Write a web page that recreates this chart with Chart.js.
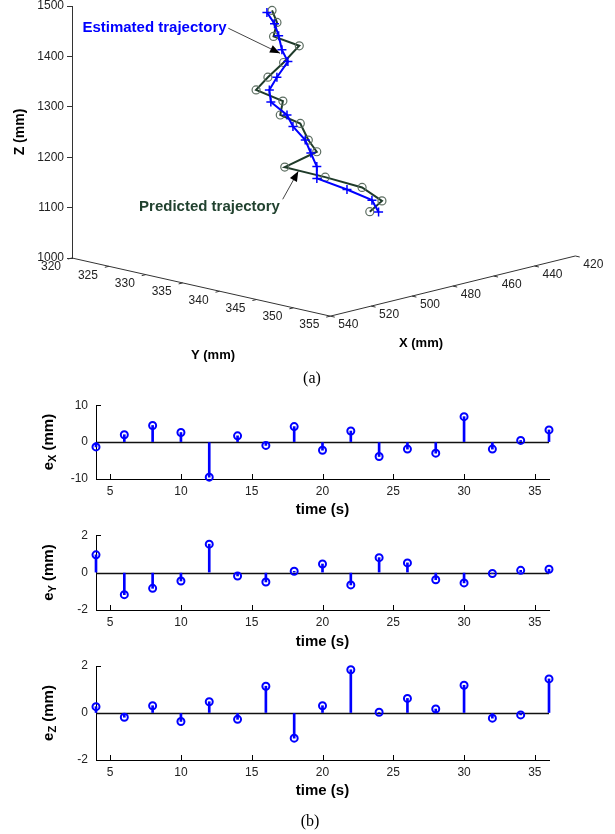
<!DOCTYPE html>
<html><head><meta charset="utf-8">
<script src="https://cdn.jsdelivr.net/npm/chart.js@4.4.1/dist/chart.umd.min.js"></script>
<style>
html,body{margin:0;padding:0;background:#fff;}
#wrap{position:relative;width:615px;height:834px;overflow:hidden;background:#fff;}
canvas{position:absolute;left:0;}
.cap{position:absolute;font-family:'Liberation Serif','Times New Roman',serif;font-size:16px;color:#000;transform:translate(-50%,-50%);white-space:nowrap;}
</style></head><body>
<div id="wrap">
<canvas id="c3d" style="top:0px" width="615" height="370"></canvas>
<div class="cap" style="left:312px;top:378px">(a)</div>
<canvas id="cx" style="top:390px" width="615" height="133"></canvas>
<canvas id="cy" style="top:520px" width="615" height="135"></canvas>
<canvas id="cz" style="top:650px" width="615" height="154"></canvas>
<div class="cap" style="left:310px;top:821px">(b)</div>
</div>
<script>
// ---------------- data ----------------
const time = [4, 6, 8, 10, 12, 14, 16, 18, 20, 22, 24, 26, 28, 30, 32, 34, 36];
const errX = [-1.3, 2.0, 4.5, 2.6, -9.5, 1.7, -0.9, 4.2, -2.2, 3.0, -3.9, -1.9, -3.0, 6.9, -1.9, 0.45, 3.3];
const errY = [0.95, -1.18, -0.84, -0.45, 1.52, -0.18, -0.5, 0.07, 0.46, -0.66, 0.8, 0.52, -0.38, -0.55, -0.05, 0.12, 0.18];
const errZ = [0.27, -0.18, 0.31, -0.36, 0.48, -0.27, 1.14, -1.07, 0.31, 1.84, 0.03, 0.62, 0.17, 1.18, -0.22, -0.08, 1.45];

// 3-D trajectories (mm)
const estX = [462.6, 462.5, 467.7, 466.1, 470.4, 479.4, 483.1, 489.6, 485.3, 486.0, 487.2, 491.7, 496.0, 499.6, 499.3, 494.3, 501.9];
const estY = [325, 326, 328, 328, 330, 331, 331, 333, 334, 335, 337, 339, 341, 342, 346, 348, 351];
const estZ = [1426.8, 1407.5, 1395.4, 1365.9, 1353.5, 1334.7, 1313.2, 1302.4, 1275.6, 1256.7, 1237.6, 1222.9, 1206.8, 1190.3, 1181.2, 1161.6, 1155.7];
const predX = [460.1, 461.3, 470.2, 457.6, 472.5, 483.8, 489.6, 483.7, 488.6, 482.4, 485.7, 488.8, 511.7, 495.5, 491.9, 489.4, 506.2];
const predY = [325, 326, 328, 328, 330, 331, 331, 333, 334, 335, 337, 339, 341, 342, 346, 348, 351];
const predZ = [1428.3, 1408.9, 1396.5, 1365.5, 1353.7, 1339.1, 1319.7, 1298.2, 1278.8, 1259.1, 1236.1, 1222.5, 1221.4, 1188.7, 1177.9, 1155.3, 1160.4];

// tick labels
const zTicks = [1000, 1100, 1200, 1300, 1400, 1500];
const yTicks3d = [320, 325, 330, 335, 340, 345, 350, 355];
const xTicks3d = [540, 520, 500, 480, 460, 440, 420];
const timeTicks = [5, 10, 15, 20, 25, 30, 35];
const exTicks = [-10, 0, 10];
const eyTicks = [-2, 0, 2];
const ezTicks = [-2, 0, 2];

// ---------------- view / projection ----------------
const VIEW = {xRef: 540, yRef: 320, au: 2.0417, bu: 7.38, av: 0.9944, bv: 3.2956};
function project(X, Y, Z) {
  return {x: (VIEW.xRef - X) * VIEW.au + (Y - VIEW.yRef) * VIEW.bu,
          y: Z + (VIEW.xRef - X) * VIEW.av - (Y - VIEW.yRef) * VIEW.bv};
}
const FONT = '"Liberation Sans", Arial, Helvetica, sans-serif';
Chart.defaults.font.family = FONT;
Chart.defaults.color = '#222';

const estPts = time.map((t, i) => project(estX[i], estY[i], estZ[i]));
const predPts = time.map((t, i) => project(predX[i], predY[i], predZ[i]));

const notes = [
  {text: 'Estimated trajectory', color: '#0000ff', at: [82.5, 1457.3], from: [156.3, 1455.9], to: [208, 1406.2]},
  {text: 'Predicted trajectory', color: '#21422f', at: [137.5, 1101.8], from: [210.7, 1116.5], to: [226.3, 1172.2]}
];
const axisNames = [
  {text: 'Y (mm)', at: [141, 807.5]},
  {text: 'X (mm)', at: [349, 831.3]}
];

const axes3d = {
  id: 'axes3d',
  afterDraw(chart) {
    const ctx = chart.ctx, xs = chart.scales.x, ys = chart.scales.y;
    const P = (X, Y, Z) => { const p = project(X, Y, Z); return [xs.getPixelForValue(p.x), ys.getPixelForValue(p.y)]; };
    const V = (a) => [xs.getPixelForValue(a[0]), ys.getPixelForValue(a[1])];
    const z0 = zTicks[0];
    const xMax = xTicks3d[0], xMin = xTicks3d[xTicks3d.length - 1];
    const yMin = yTicks3d[0], yMax = yTicks3d[yTicks3d.length - 1];
    ctx.save();
    ctx.strokeStyle = '#333'; ctx.lineWidth = 1;
    ctx.beginPath();
    let a = P(xMax, yMin, z0), b = P(xMax, yMax, z0), c = P(xMin, yMax, z0);
    ctx.moveTo(a[0], a[1]); ctx.lineTo(b[0], b[1]); ctx.lineTo(c[0], c[1]);
    ctx.stroke();
    ctx.font = '12px ' + FONT; ctx.fillStyle = '#222';
    ctx.textAlign = 'center'; ctx.textBaseline = 'middle';
    yTicks3d.forEach(v => {
      const p = P(xMax, v, z0), q = P(xMax + 2, v, z0);
      ctx.beginPath(); ctx.moveTo(p[0], p[1]); ctx.lineTo(q[0], q[1]); ctx.stroke();
      ctx.fillText(String(v), p[0] - 21, p[1] + 9);
    });
    xTicks3d.forEach(v => {
      const p = P(v, yMax, z0), q = P(v, yMax + 0.6, z0);
      ctx.beginPath(); ctx.moveTo(p[0], p[1]); ctx.lineTo(q[0], q[1]); ctx.stroke();
      ctx.fillText(String(v), p[0] + 18, p[1] + 9);
    });
    ctx.font = 'bold 13px ' + FONT; ctx.fillStyle = '#000';
    axisNames.forEach(n => { const p = V(n.at); ctx.fillText(n.text, p[0], p[1]); });
    // annotations
    notes.forEach(n => {
      const t = V(n.at), f = V(n.from), e = V(n.to);
      ctx.font = 'bold 15px ' + FONT; ctx.fillStyle = n.color;
      ctx.fillText(n.text, t[0], t[1]);
      ctx.strokeStyle = '#444'; ctx.lineWidth = 1;
      ctx.beginPath(); ctx.moveTo(f[0], f[1]); ctx.lineTo(e[0], e[1]); ctx.stroke();
      const ang = Math.atan2(e[1] - f[1], e[0] - f[0]);
      const L = 10, W = 4;
      ctx.fillStyle = '#000';
      ctx.beginPath();
      ctx.moveTo(e[0], e[1]);
      ctx.lineTo(e[0] - L * Math.cos(ang) + W * Math.sin(ang), e[1] - L * Math.sin(ang) - W * Math.cos(ang));
      ctx.lineTo(e[0] - L * Math.cos(ang) - W * Math.sin(ang), e[1] - L * Math.sin(ang) + W * Math.cos(ang));
      ctx.closePath(); ctx.fill();
    });
    ctx.restore();
  }
};

new Chart(document.getElementById('c3d'), {
  type: 'scatter',
  data: {datasets: [
    {label: 'Predicted trajectory', data: predPts, showLine: true, borderColor: '#1f3b2a', borderWidth: 2,
     pointStyle: 'circle', pointRadius: 4, pointBorderColor: '#5d6e62', pointBackgroundColor: 'rgba(0,0,0,0)',
     pointBorderWidth: 1.2, clip: false, order: 1},
    {label: 'Estimated trajectory', data: estPts, showLine: true, borderColor: '#0000ff', borderWidth: 2,
     pointStyle: 'cross', pointRadius: 4.5, pointBorderColor: '#0000ff', pointBorderWidth: 1.5, clip: false, order: 0}
  ]},
  options: {
    responsive: false, animation: false, devicePixelRatio: 1,
    layout: {padding: {top: 0, right: 15, bottom: 112, left: 0}},
    plugins: {legend: {display: false}, tooltip: {enabled: false}},
    scales: {
      x: {type: 'linear', display: false, min: 0, max: 528},
      y: {type: 'linear', min: 1000, max: 1500, position: 'left',
          afterBuildTicks: s => { s.ticks = zTicks.map(v => ({value: v})); },
          afterFit: s => { s.width = 72; s.paddingTop = 6; s.paddingBottom = 0; },
          grid: {drawOnChartArea: false, drawTicks: true, tickLength: 5, color: '#333'},
          border: {display: true, color: '#333', width: 1},
          ticks: {color: '#222', font: {size: 12, lineHeight: 1}, padding: 3, callback: v => String(v)},
          title: {display: true, text: 'Z (mm)', color: '#000', font: {size: 14, weight: 'bold'}, padding: {top: 12, bottom: 0}}}
    }
  },
  plugins: [axes3d]
});

// ---------------- stem plots ----------------
function stemDeco(sub) {
  return {
    id: 'stemDeco' + sub,
    beforeDatasetsDraw(chart) {
      const ctx = chart.ctx, xs = chart.scales.x, ys = chart.scales.y, ca = chart.chartArea;
      ctx.save();
      ctx.strokeStyle = '#000'; ctx.lineWidth = 1;
      xs.ticks.forEach(t => {
        const x = Math.round(xs.getPixelForValue(t.value)) + 0.5;
        ctx.beginPath(); ctx.moveTo(x, ca.bottom); ctx.lineTo(x, ca.bottom - 5); ctx.stroke();
      });
      ys.ticks.forEach(t => {
        const y = Math.round(ys.getPixelForValue(t.value)) + 0.5;
        ctx.beginPath(); ctx.moveTo(ca.left, y); ctx.lineTo(ca.left + 5, y); ctx.stroke();
      });
      const y0 = Math.round(ys.getPixelForValue(0)) + 0.5;
      ctx.strokeStyle = '#111'; ctx.lineWidth = 1.3;
      ctx.beginPath(); ctx.moveTo(ca.left, y0); ctx.lineTo(ca.right, y0); ctx.stroke();
      ctx.restore();
    },
    afterDraw(chart) {
      const ctx = chart.ctx, ca = chart.chartArea;
      const cx = 49, cy = (ca.top + ca.bottom) / 2;
      ctx.save();
      ctx.translate(cx, cy); ctx.rotate(-Math.PI / 2);
      const f1 = 'bold 15px ' + FONT, f2 = 'bold 11px ' + FONT;
      ctx.font = f1; const w1 = ctx.measureText('e').width, w3 = ctx.measureText(' (mm)').width;
      ctx.font = f2; const w2 = ctx.measureText(sub).width;
      let x = -(w1 + w2 + w3) / 2;
      ctx.fillStyle = '#000'; ctx.textBaseline = 'middle'; ctx.textAlign = 'left';
      ctx.font = f1; ctx.fillText('e', x, 0); x += w1;
      ctx.font = f2; ctx.fillText(sub, x, 4); x += w2;
      ctx.font = f1; ctx.fillText(' (mm)', x, 0);
      ctx.restore();
    }
  };
}

function makeStem(id, values, lim, yTicks, sub, padTop, xAxisH) {
  const pts = time.map((t, i) => ({x: t, y: values[i]}));
  new Chart(document.getElementById(id), {
    type: 'bar',
    data: {datasets: [
      {type: 'scatter', label: 'e' + sub, data: pts, pointStyle: 'circle', pointRadius: 3.5, pointBorderWidth: 2,
       borderColor: '#0000ff', backgroundColor: 'rgba(0,0,0,0)', clip: false, order: 0},
      {type: 'bar', label: 'stem', data: pts, backgroundColor: '#0000ff', borderWidth: 0, barThickness: 2, clip: false, order: 1}
    ]},
    options: {
      responsive: false, animation: false, devicePixelRatio: 1,
      layout: {padding: {top: padTop, right: 66, bottom: 0, left: 0}},
      plugins: {legend: {display: false}, tooltip: {enabled: false}},
      scales: {
        x: {type: 'linear', min: time[0], max: time[time.length - 1], offset: false,
            afterBuildTicks: s => { s.ticks = timeTicks.map(v => ({value: v})); },
            afterFit: s => { s.height = xAxisH; },
            grid: {drawOnChartArea: false, drawTicks: false},
            border: {display: true, color: '#000', width: 1},
            ticks: {color: '#222', font: {size: 12}, padding: 5, maxRotation: 0, autoSkip: false},
            title: {display: true, text: 'time (s)', color: '#000', font: {size: 15, weight: 'bold'}, padding: {top: 0, bottom: 4}}},
        y: {type: 'linear', min: lim[0], max: lim[1],
            afterBuildTicks: s => { s.ticks = yTicks.map(v => ({value: v})); },
            afterFit: s => { s.width = 96; },
            grid: {drawOnChartArea: false, drawTicks: false},
            border: {display: true, color: '#000', width: 1},
            ticks: {color: '#222', font: {size: 12}, padding: 8}}
      }
    },
    plugins: [stemDeco(sub)]
  });
}

makeStem('cx', errX, [-10, 10], exTicks, 'X', 15, 44);
makeStem('cy', errY, [-2, 2], eyTicks, 'Y', 15, 45);
makeStem('cz', errZ, [-2, 2], ezTicks, 'Z', 16, 44);
</script>
</body></html>
